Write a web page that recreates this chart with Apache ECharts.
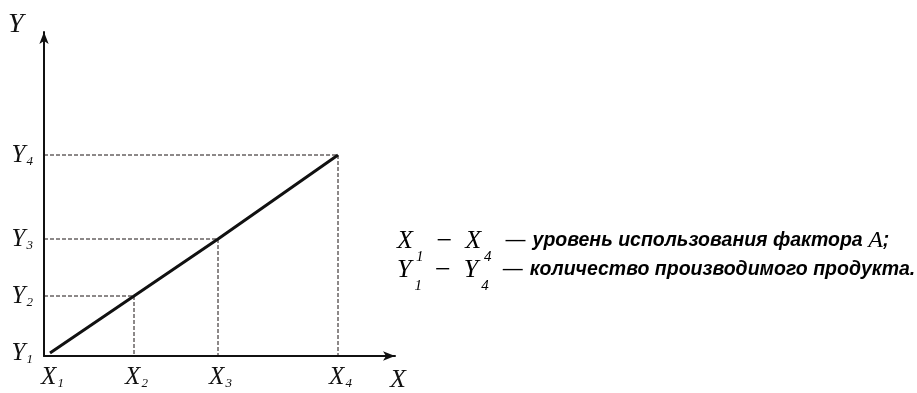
<!DOCTYPE html>
<html>
<head>
<meta charset="utf-8">
<script src="https://cdn.jsdelivr.net/npm/echarts@6/dist/echarts.min.js"></script>
<style>html,body{margin:0;padding:0;background:#fff;}#c{width:917px;height:393px;}</style>
</head>
<body>
<div id="c"></div>
<script>
// Data (arbitrary units)
const xValues = [2, 30, 58, 98];
const yValues = [1, 20, 39, 67];
const xTickLabels = ['X1', 'X2', 'X3', 'X4'];
const yTickLabels = ['Y1', 'Y2', 'Y3', 'Y4'];
const xAxisMax = 117;
const yAxisMax = 108;
const legendLine1 = ['X', '1', 'X', '4', 'уровень использования фактора ', 'A', ';'];
const legendLine2 = ['Y', '1', 'Y', '4', 'количество производимого продукта.'];

const serif = 'Liberation Serif';
const sans = 'Liberation Sans';

const tickRich = {
  m: { fontFamily: serif, fontStyle: 'italic', fontSize: 25, lineHeight: 25, color: '#111', padding: [0, 0, 0, 5] },
  s: { fontFamily: serif, fontStyle: 'italic', fontSize: 13, lineHeight: 13, padding: [13, 0, 0, 1], color: '#111' }
};
function tickFmt(values, labels) {
  return function (v) {
    let i = values.indexOf(v);
    if (i < 0) return '';
    const t = labels[i];
    return '{m|' + t[0] + '}{s|' + t.slice(1) + '}';
  };
}

const guideSeries = [];
for (let i = 1; i < xValues.length; i++) {
  guideSeries.push({
    type: 'line',
    data: [[0, yValues[i]], [xValues[i], yValues[i]], [xValues[i], 0]],
    symbol: 'none',
    silent: true,
    lineStyle: { color: '#1a1212', width: 1, type: [4, 2] },
    z: 1
  });
}

const legendRich = {
  m: { fontFamily: serif, fontStyle: 'italic', fontSize: 26, lineHeight: 29, verticalAlign: 'top', color: '#111' },
  s: { fontFamily: serif, fontStyle: 'italic', fontSize: 15, lineHeight: 15, padding: [22, 0, 0, 3], verticalAlign: 'top', color: '#111' },
  mi: { fontFamily: serif, fontSize: 28, lineHeight: 29, verticalAlign: 'top', padding: [0, 13, 0, 13], color: '#111' },
  dd: { fontFamily: sans, fontSize: 20, lineHeight: 29, verticalAlign: 'top', padding: [2, 7, 0, 14], color: '#111' },
  t: { fontFamily: sans, fontStyle: 'italic', fontWeight: 'bold', fontSize: 19.5, lineHeight: 29, verticalAlign: 'top', padding: [3, 0, 0, 0], color: '#111' },
  ma: { fontFamily: serif, fontStyle: 'italic', fontSize: 24, lineHeight: 29, verticalAlign: 'top', padding: [1, 0, 0, 0], color: '#111' }
};
function legendText(p) {
  let s = '{m|' + p[0] + '}{s|' + p[1] + '}{mi|−}{m|' + p[2] + '}{s|' + p[3] + '}{dd|—}{t|' + p[4] + '}';
  if (p.length > 5) s += '{ma|' + p[5] + '}{t|' + p[6] + '}';
  return s;
}

const chart = echarts.init(document.getElementById('c'));
chart.setOption({
  animation: false,
  backgroundColor: '#fff',
  grid: { left: 44, right: 522, top: 32, bottom: 37, containLabel: false },
  xAxis: {
    type: 'value', min: 0, max: xAxisMax,
    axisLine: { show: true, symbol: ['none', 'arrow'], symbolSize: [7, 12], lineStyle: { color: '#111', width: 2 } },
    axisTick: { show: false },
    splitLine: { show: false },
    axisLabel: { customValues: xValues, formatter: tickFmt(xValues, xTickLabels), rich: tickRich, margin: 9 }
  },
  yAxis: {
    type: 'value', min: 0, max: yAxisMax,
    axisLine: { show: true, symbol: ['none', 'arrow'], symbolSize: [7, 12], lineStyle: { color: '#111', width: 2 } },
    axisTick: { show: false },
    splitLine: { show: false },
    axisLabel: { customValues: yValues, formatter: tickFmt(yValues, yTickLabels), rich: tickRich, margin: 11 }
  },
  graphic: [
    { type: 'text', left: 8, top: 11, style: { text: 'Y', font: 'italic 28px "Liberation Serif"', fill: '#111' } },
    { type: 'text', left: 390, top: 367, style: { text: 'X', font: 'italic 26px "Liberation Serif"', fill: '#111' } },
    { type: 'text', left: 397, top: 228, style: { text: legendText(legendLine1), rich: legendRich } },
    { type: 'text', left: 397, top: 257, style: { text: legendText(legendLine2), rich: legendRich } }
  ],
  series: guideSeries.concat([{
    type: 'line',
    data: xValues.map((x, i) => [x, yValues[i]]),
    symbol: 'none',
    lineStyle: { color: '#111', width: 3 },
    z: 3
  }])
});
</script>
</body>
</html>
